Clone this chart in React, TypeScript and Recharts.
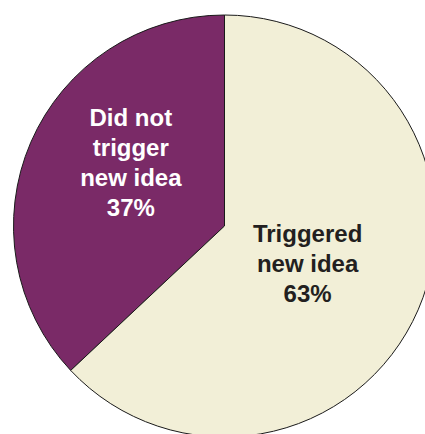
import React from 'react';
import { PieChart, Pie, Cell } from 'recharts';

const names = ['Did not trigger new idea', 'Triggered new idea'];
const values = [37, 63];
const labelLines = [
  ['Did not', 'trigger', 'new idea', '37%'],
  ['Triggered', 'new idea', '63%'],
];
const colors = ['#7a2a67', '#f2efd7'];
const textColors = ['#ffffff', '#231f20'];
// label anchor in polar terms (deg, px from centre)
const labelAngle = [146, 336];
const labelRadius = [113, 91];

const data = names.map((name, i) => ({ name, value: values[i] }));

const RAD = Math.PI / 180;

function SliceLabel(props: any) {
  const { cx, cy, index } = props;
  const a = labelAngle[index] * RAD;
  const x = cx + labelRadius[index] * Math.cos(a);
  const y = cy - labelRadius[index] * Math.sin(a);
  const lines = labelLines[index];
  const lh = 30;
  const top = y - ((lines.length - 1) * lh) / 2;
  return (
    <text
      textAnchor="middle"
      fill={textColors[index]}
      fontFamily="'Liberation Sans', Arial, sans-serif"
      fontWeight="bold"
      fontSize={24}
    >
      {lines.map((l, k) => (
        <tspan key={k} x={x} y={top + k * lh} dominantBaseline="central">
          {l}
        </tspan>
      ))}
    </text>
  );
}

export default function App() {
  return (
    <div style={{ position: 'fixed', left: 0, top: 0, width: 425, height: 434, background: '#fff' }}>
      <PieChart width={425} height={434} margin={{ top: 0, right: 0, bottom: 0, left: 0 }}>
        <Pie
          data={data}
          dataKey="value"
          nameKey="name"
          cx={224.5}
          cy={226}
          outerRadius={211}
          startAngle={90}
          endAngle={450}
          stroke="#1a1a1a"
          strokeWidth={1}
          label={SliceLabel}
          labelLine={false}
          isAnimationActive={false}
        >
          {data.map((d, i) => (
            <Cell key={d.name} fill={colors[i]} />
          ))}
        </Pie>
      </PieChart>
    </div>
  );
}
